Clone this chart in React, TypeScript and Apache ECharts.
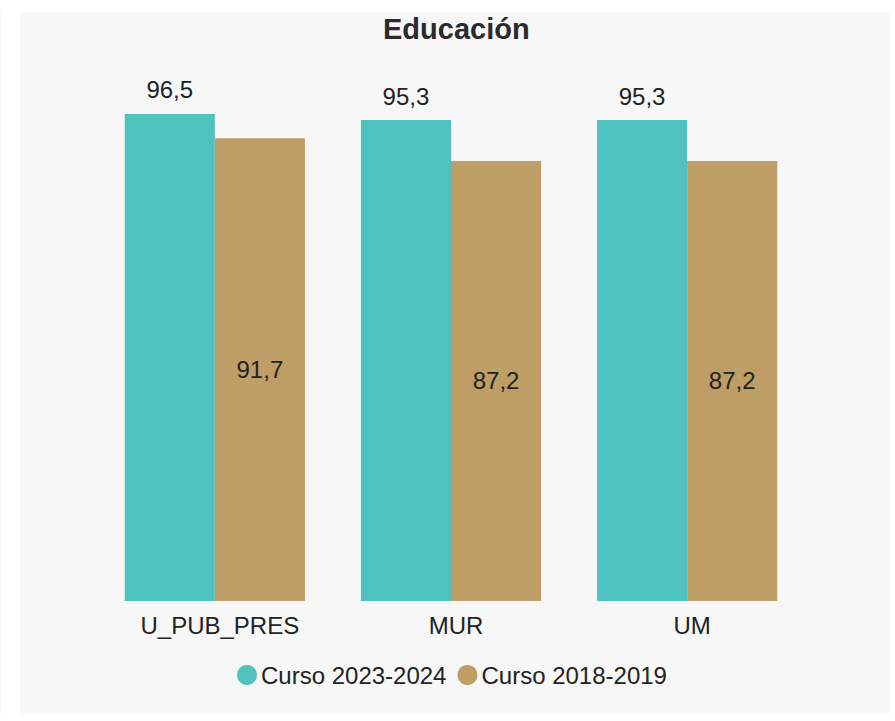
import React, { useEffect, useRef } from "react";
import * as echarts from "echarts";

const categories = ["U_PUB_PRES", "MUR", "UM"];
const seriesNames = ["Curso 2023-2024", "Curso 2018-2019"];
const curso2023 = [96.5, 95.3, 95.3];
const curso2018 = [91.7, 87.2, 87.2];
const chartTitle = "Educación";

const fmt = (p: any) => Number(p.value).toFixed(1).replace(".", ",");

export default function App() {
  const ref = useRef<HTMLDivElement>(null);
  useEffect(() => {
    if (!ref.current) return;
    const chart = echarts.init(ref.current, undefined, { renderer: "svg" });
    chart.setOption({
      animation: false,
      backgroundColor: "#ffffff",
      textStyle: { fontFamily: "Liberation Sans, Arial, sans-serif" },
      graphic: [
        { type: "rect", z: -10, silent: true, shape: { x: 20, y: 12, width: 870, height: 702 }, style: { fill: "#f7f7f7" } },
        { type: "rect", z: -10, silent: true, shape: { x: 0, y: 12, width: 2, height: 702 }, style: { fill: "#f9f9f9" } },
      ],
      title: {
        text: chartTitle,
        left: 383,
        top: 14,
        padding: 0,
        textStyle: { fontSize: 29, fontWeight: "bold", color: "#2b2b2b", fontFamily: "Liberation Sans, Arial, sans-serif" },
      },
      legend: {
        left: 237,
        top: 663,
        padding: 0,
        itemGap: 11,
        itemWidth: 20,
        itemHeight: 20,
        icon: "circle",
        textStyle: { fontSize: 24, color: "#222", padding: [0, 0, 0, -1] },
        data: seriesNames,
      },
      grid: { left: 96.75, right: 89.75, top: 96.3, bottom: 120 },
      xAxis: {
        type: "category",
        data: categories,
        axisLine: { show: false },
        axisTick: { show: false },
        axisLabel: { fontSize: 24, color: "#222", margin: 12, padding: [0, 0, 0, 10] },
      },
      yAxis: { type: "value", min: 0, max: 100, show: false, splitLine: { show: false } },
      series: [
        {
          name: seriesNames[0],
          type: "bar",
          data: curso2023,
          barGap: 0,
          barCategoryGap: "23.7%",
          itemStyle: { color: "#4fc2bf" },
          label: { show: true, position: "top", distance: 12, fontSize: 24, color: "#222", formatter: fmt },
        },
        {
          name: seriesNames[1],
          type: "bar",
          data: curso2018,
          itemStyle: { color: "#bf9e66" },
          label: { show: true, position: "inside", fontSize: 24, color: "#222", formatter: fmt },
        },
      ],
    });
    return () => chart.dispose();
  }, []);
  return <div ref={ref} style={{ position: "absolute", left: 0, top: 0, width: 895, height: 721 }} />;
}
